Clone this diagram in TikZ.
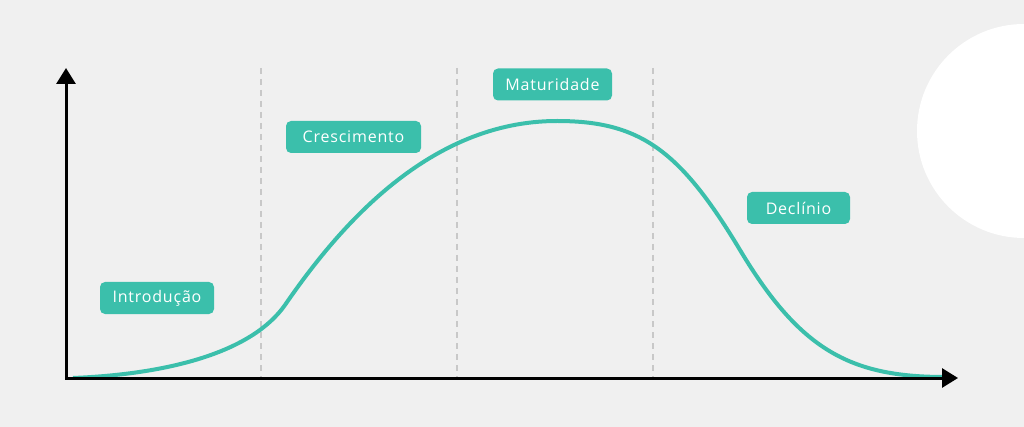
\documentclass[tikz,border=0pt]{standalone}
\usepackage{fontspec}
\setmainfont{Open Sans}[LetterSpace=5]
\usetikzlibrary{arrows.meta}
\definecolor{bggray}{HTML}{F0F0F0}
\definecolor{phaseteal}{HTML}{3BBFAB}
\definecolor{dashgray}{HTML}{C8C8C8}

\begin{document}
\begin{tikzpicture}[x=1pt, y=-1pt,
	every node/.style={font=\fontsize{16}{18}\selectfont, text=white},
	phase/.style={fill=phaseteal, rounded corners=5pt, minimum height=32pt, inner xsep=8pt, inner ysep=0pt},
	>={Triangle[length=16pt, width=19pt]}]
	\useasboundingbox (0,0) rectangle (1024,427);
	\fill[bggray] (0,0) rectangle (1024,427);
	\fill[white] (1024,238) arc (90:270:107) -- cycle;
	% phase separators
	\foreach \x in {261,457,653}
		\draw[dashgray, line width=2pt, dash pattern=on 6pt off 5pt] (\x,68) -- (\x,378);
	% life cycle curve
	\draw[phaseteal, line width=4pt] (73,378) .. controls (170,374) and (252,352) .. (285,305)
		.. controls (340,225) and (430,121) .. (557,121)
		.. controls (640,121) and (680,150) .. (740,250)
		.. controls (800,350) and (850,377) .. (945,377);
	% axes
	\coordinate (origin) at (66,378);
	\coordinate (ytop) at (66,68);
	\coordinate (xend) at (958,378);
	\draw[<->, line width=3pt] (ytop) -- (origin) -- (xend);
	% phase labels
	\node[phase, minimum width=114pt] (intro) at (157,298) {Introdução};
	\node[phase, minimum width=135pt] (cresc) at (353.5,137) {Crescimento};
	\node[phase, minimum width=119pt] (matur) at (552.5,84.5) {Maturidade};
	\node[phase, minimum width=103pt] (decl) at (798.5,208) {Declínio};
\end{tikzpicture}
\end{document}
